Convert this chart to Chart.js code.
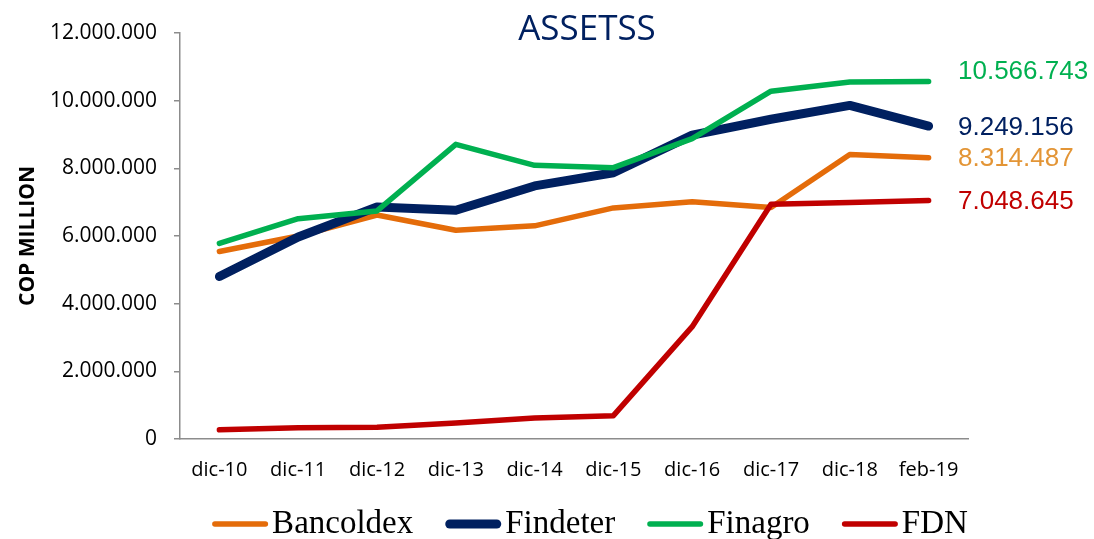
<!DOCTYPE html>
<html>
<head>
<meta charset="utf-8">
<script src="https://cdn.jsdelivr.net/npm/chart.js@4.4.1/dist/chart.umd.min.js"></script>
<style>
  html, body { margin: 0; padding: 0; background: #fff; }
  #wrap { width: 1094px; height: 539px; position: relative; }
</style>
</head>
<body>
<div id="wrap"><canvas id="assets"></canvas></div>
<script>
const periods = ['dic-10', 'dic-11', 'dic-12', 'dic-13', 'dic-14', 'dic-15', 'dic-16', 'dic-17', 'dic-18', 'feb-19'];
const bancoldex = [5540000, 6000000, 6620000, 6170000, 6300000, 6830000, 7010000, 6840000, 8410000, 8314487];
const findeter = [4800000, 5970000, 6860000, 6760000, 7480000, 7870000, 8980000, 9450000, 9860000, 9249156];
const finagro = [5780000, 6510000, 6740000, 8710000, 8090000, 8020000, 8880000, 10280000, 10550000, 10566743];
const fdn = [270000, 330000, 350000, 470000, 620000, 690000, 3320000, 6940000, 6990000, 7048645];
const yTicks = [0, 2000000, 4000000, 6000000, 8000000, 10000000, 12000000];

function fmt(n) {
    return Math.round(n).toString().replace(/\B(?=(\d{3})+(?!\d))/g, '.');
}

// end of line value labels (text colour, vertical nudge)
const endLabelStyle = [
    {color: '#E39536', dy: 1},
    {color: '#002060', dy: 2},
    {color: '#00B050', dy: -10},
    {color: '#C00000', dy: 1}
];

const endLabels = {
    id: 'endLabels',
    afterDatasetsDraw(chart) {
        const ctx = chart.ctx;
        ctx.save();
        ctx.font = '26px "Liberation Sans", Arial, sans-serif';
        ctx.textAlign = 'left';
        ctx.textBaseline = 'middle';
        chart.data.datasets.forEach((ds, i) => {
            const meta = chart.getDatasetMeta(i);
            const last = meta.data[meta.data.length - 1];
            ctx.fillStyle = endLabelStyle[i].color;
            ctx.fillText(fmt(ds.data[ds.data.length - 1]), chart.chartArea.right - 10, last.y + endLabelStyle[i].dy);
        });
        ctx.restore();
    }
};

const titleAndLegend = {
    id: 'titleAndLegend',
    afterDraw(chart) {
        const ctx = chart.ctx;
        ctx.save();
        ctx.font = '35px "Open Sans", sans-serif';
        ctx.fillStyle = '#002060';
        ctx.textAlign = 'center';
        ctx.textBaseline = 'middle';
        ctx.fillText('ASSETSS', 587, 30);

        // legend
        ctx.font = '33px "Liberation Serif", "Times New Roman", serif';
        ctx.textAlign = 'left';
        const lineW = 56, gapText = 4, gapItem = 32, y = 524;
        const items = chart.data.datasets.map(ds => ({
            text: ds.label, color: ds.borderColor, width: ds.borderWidth,
            w: lineW + gapText + ctx.measureText(ds.label).width
        }));
        const total = items.reduce((s, it) => s + it.w, 0) + gapItem * (items.length - 1);
        let x = 590 - total / 2;
        items.forEach(it => {
            ctx.strokeStyle = it.color;
            ctx.lineWidth = it.width;
            ctx.lineCap = 'round';
            ctx.beginPath();
            ctx.moveTo(x + it.width / 2, y);
            ctx.lineTo(x + lineW - it.width / 2, y);
            ctx.stroke();
            ctx.fillStyle = '#000';
            ctx.fillText(it.text, x + lineW + gapText, y);
            x += it.w + gapItem;
        });
        ctx.restore();
    }
};

function series(label, data, color, width, order) {
    return {
        label: label, data: data, borderColor: color, backgroundColor: color,
        borderWidth: width, pointRadius: 0, tension: 0, order: order,
        borderCapStyle: 'round', borderJoinStyle: 'round'
    };
}

new Chart(document.getElementById('assets'), {
    type: 'line',
    data: {
        labels: periods,
        datasets: [
            series('Bancoldex', bancoldex, '#E46C0A', 5.5, 3),
            series('Findeter', findeter, '#002060', 9, 2),
            series('Finagro', finagro, '#00B050', 5.5, 1),
            series('FDN', fdn, '#C00000', 5.5, 0)
        ]
    },
    options: {
        responsive: true,
        maintainAspectRatio: false,
        animation: false,
        layout: { padding: { top: 33, right: 126, left: 0, bottom: 0 } },
        plugins: {
            legend: { display: false },
            title: { display: false },
            tooltip: { enabled: false }
        },
        scales: {
            x: {
                type: 'category',
                offset: true,
                grid: { display: false },
                border: { display: true, color: '#8c8c8c', width: 1.5 },
                ticks: { color: '#000', padding: 11, maxRotation: 0, font: { family: 'Open Sans', size: 20 } },
                afterFit: scale => { scale.height = 100; }
            },
            y: {
                min: 0,
                max: 12000000,
                afterBuildTicks: scale => { scale.ticks = yTicks.map(v => ({value: v})); },
                grid: { display: true, drawOnChartArea: false, drawTicks: true, tickLength: 6, color: '#8c8c8c', lineWidth: 1.5 },
                border: { display: true, color: '#8c8c8c', width: 1.5 },
                ticks: { color: '#000', padding: 17, font: { family: 'Open Sans', size: 21 }, callback: v => fmt(v) },
                title: { display: true, text: 'COP MILLION', color: '#000', padding: { top: 15, bottom: 0 },
                         font: { family: 'Open Sans', size: 21, weight: 'bold' } },
                afterFit: scale => { scale.width = 180; }
            }
        }
    },
    plugins: [endLabels, titleAndLegend]
});
</script>
</body>
</html>
